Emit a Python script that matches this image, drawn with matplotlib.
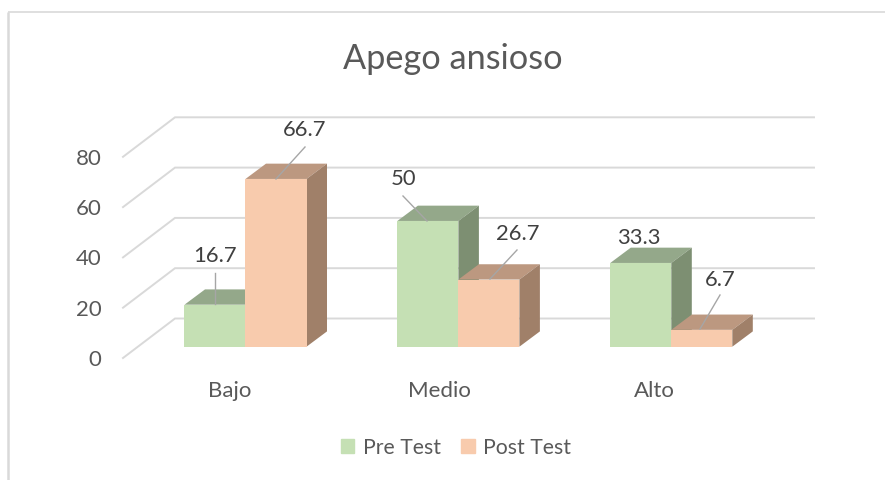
import matplotlib
matplotlib.use("Agg")
import matplotlib.pyplot as plt
from matplotlib.patches import Patch

plt.rcParams['font.family'] = ['Lato', 'DejaVu Sans']

# Data
categories = ["Bajo", "Medio", "Alto"]
pre_test = [16.7, 50, 33.3]
post_test = [66.7, 26.7, 6.7]
y_ticks = [0, 20, 40, 60, 80]

# Figure geometry, in pixels
W, H = 885, 480
PX_PER_CAT = 212.9
PX_PER_VAL = 2.515
FIRST_CAT_PX = 245.5
BASE_PX = 346.7


def xpx(px):
    return (px - FIRST_CAT_PX) / PX_PER_CAT


def ypx(px):
    return (BASE_PX - px) / PX_PER_VAL


bar_w = 61 / PX_PER_CAT
depth_x = 20.5 / PX_PER_CAT
depth_y = 15.3 / PX_PER_VAL
wall_x = 52 / PX_PER_CAT
wall_y = 39.5 / PX_PER_VAL
wall_base = ypx(358)

green, green_top, green_side = "#C5E0B4", "#94A88A", "#7D8F72"
peach, peach_top, peach_side = "#F8CBAD", "#BC9880", "#A08069"

fig = plt.figure(figsize=(W / 100, H / 100), dpi=100)
ax = fig.add_axes([0, 0, 1, 1])
ax.set_xlim(xpx(0), xpx(W))
ax.set_ylim(ypx(H), ypx(0))
ax.axis("off")

# Chart frame
ax.plot([xpx(8), xpx(8)], [ypx(H), ypx(12.5)], color="#D9D9D9", lw=1.8, solid_capstyle="butt")
ax.plot([xpx(8), xpx(W)], [ypx(12.5), ypx(12.5)], color="#D9D9D9", lw=1.2, solid_capstyle="butt")

# Floor and back wall gridlines
for t in y_ticks:
    y0 = wall_base + t
    ax.plot([xpx(123), xpx(123) + wall_x, xpx(814)], [y0, y0 + wall_y, y0 + wall_y],
            color="#D9D9D9", lw=1.4, solid_joinstyle="miter", zorder=1)
    ax.text(xpx(101.5), y0 - 2 / PX_PER_VAL, str(t), ha="right", va="center", fontsize=16, color="#595959")


def draw_bars(left, values, front, top, side):
    ax.bar(left, values, width=bar_w, align="edge", color=front, lw=0, zorder=3)
    for x, v in zip(left, values):
        ax.fill([x, x + depth_x, x + bar_w + depth_x, x + bar_w],
                [v, v + depth_y, v + depth_y, v], color=top, lw=0, zorder=2)
        ax.fill([x + bar_w, x + bar_w + depth_x, x + bar_w + depth_x, x + bar_w],
                [0, depth_y, v + depth_y, v], color=side, lw=0, zorder=2)


positions = list(range(len(categories)))
draw_bars([p - bar_w for p in positions], pre_test, green, green_top, green_side)
# Post bars sit in front of the side face of the pre bars
draw_bars(positions, post_test, peach, peach_top, peach_side)
for art in ax.patches[-len(categories):]:
    art.set_zorder(4)
for art in ax.collections:
    art.set_zorder(2)

# Category labels
cat_shift_px = [-15.5, -18.5, -17]
for p, name, s in zip(positions, categories, cat_shift_px):
    ax.text(p + s / PX_PER_CAT, ypx(391), name, ha="center", va="center", fontsize=16, color="#595959")

# Value labels and their leader lines (pixel positions of the labels)
label_px = [(215, 256), (403, 179), (639, 238)]
label_px_post = [(305, 130), (518, 234), (720, 280)]
leaders_pre = [((215, 273), (215, 304)), ((403, 196), (427, 221)), None]
leaders_post = [((305, 147), (276, 179)), ((517, 250), (490, 279)), ((720, 295), (700, 329))]

for vals, labels, leaders in [(pre_test, label_px, leaders_pre), (post_test, label_px_post, leaders_post)]:
    for v, (lx, ly), lead in zip(vals, labels, leaders):
        ax.text(xpx(lx), ypx(ly), f"{v:g}", ha="center", va="center", fontsize=15.8, color="#404040", zorder=6)
        if lead:
            (x0, y0), (x1, y1) = lead
            ax.plot([xpx(x0), xpx(x1)], [ypx(y0), ypx(y1)], color="#A6A6A6", lw=1.0, zorder=5)

ax.text(xpx(452.5), ypx(59), "Apego ansioso", ha="center", va="center", fontsize=24.7, color="#595959")

handles = [Patch(color=green, label="Pre Test"), Patch(color=peach, label="Post Test")]
ax.legend(handles=handles, loc="center", bbox_to_anchor=(456 / W, 1 - 447.5 / H), ncol=2, frameon=False,
          fontsize=15.3, labelcolor="#595959", handlelength=0.65, handleheight=0.65,
          handletextpad=0.4, columnspacing=0.95)

fig.savefig("out.png", dpi=100)
